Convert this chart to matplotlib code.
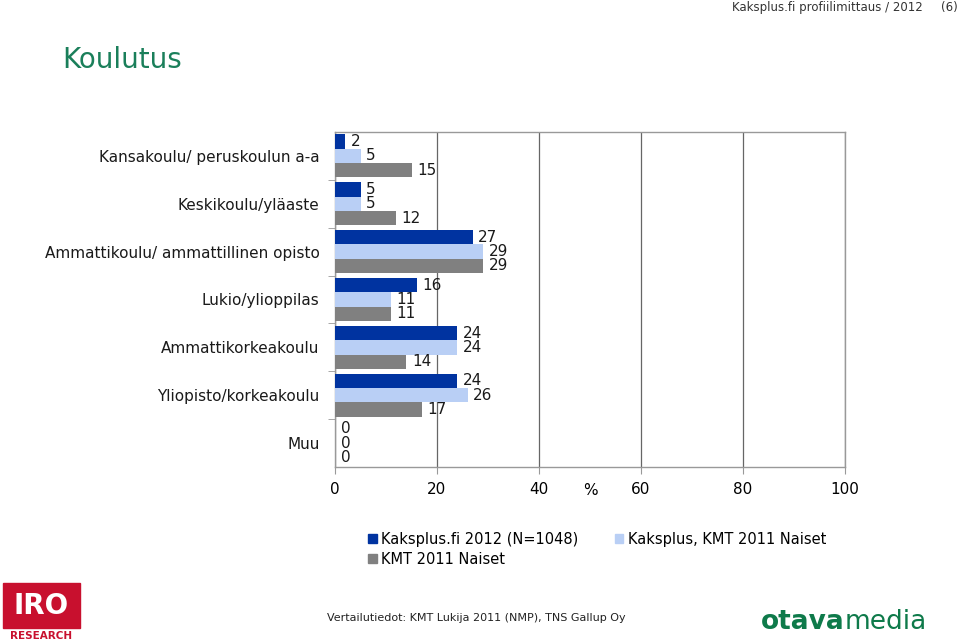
import matplotlib.pyplot as plt
from matplotlib.patches import Patch, Rectangle

plt.rcParams['font.family'] = ['DejaVu Sans']

categories = ['Kansakoulu/ peruskoulun a-a', 'Keskikoulu/yläaste',
              'Ammattikoulu/ ammattillinen opisto', 'Lukio/ylioppilas',
              'Ammattikorkeakoulu', 'Yliopisto/korkeakoulu', 'Muu']
kaksplus_2012 = [2, 5, 27, 16, 24, 24, 0]
kaksplus_kmt = [5, 5, 29, 11, 24, 26, 0]
kmt_naiset = [15, 12, 29, 11, 14, 17, 0]
series_names = ['Kaksplus.fi 2012 (N=1048)', 'Kaksplus, KMT 2011 Naiset', 'KMT 2011 Naiset']
colors = ['#0033a0', '#b9cff5', '#808080']
xticks = [0, 20, 40, 60, 80, 100]

fig = plt.figure(figsize=(9.6, 6.42), dpi=100)
ax = fig.add_axes([335 / 960, 1 - 467 / 642, 510 / 960, 335 / 642])

h = 0.3
ypos = list(range(len(categories)))
for k, (vals, col) in enumerate(zip([kaksplus_2012, kaksplus_kmt, kmt_naiset], colors)):
    yy = [y + (k - 1) * h for y in ypos]
    ax.barh(yy, vals, height=h, color=col, zorder=3)
    for y, v in zip(yy, vals):
        ax.annotate(str(v), (v, y), xytext=(4, 0), textcoords='offset points',
                    va='center', ha='left', fontsize=11, color='#1a1a1a', zorder=4)

ax.set_xlim(0, 100)
ax.set_ylim(len(categories) - 0.5, -0.5)
ax.set_xticks(xticks)
ax.set_xticklabels([str(t) for t in xticks], fontsize=11)
ax.set_yticks(ypos)
ax.set_yticklabels(categories, fontsize=11, color='#1a1a1a')
ax.set_yticks([y + 0.5 for y in ypos[:-1]], minor=True)
ax.tick_params(axis='y', which='major', length=0, pad=11)
ax.tick_params(axis='y', which='minor', length=5, color='#999999')
ax.tick_params(axis='x', length=5, color='#999999', pad=6)
ax.xaxis.grid(True, color='#666666', linewidth=0.9, zorder=0)
for s in ax.spines.values():
    s.set_color('#999999')
    s.set_linewidth(1.0)
ax.text(50, -0.07, '%', transform=ax.get_xaxis_transform(), ha='center', va='center', fontsize=11)

handles = [Patch(color=colors[0], label=series_names[0]),
           Patch(color=colors[2], label=series_names[2]),
           Patch(color=colors[1], label=series_names[1])]
fig.legend(handles=handles, ncol=2, loc='upper left', bbox_to_anchor=(362 / 960, 1 - 526 / 642),
           frameon=False, fontsize=10.5, handlelength=0.6, handleheight=0.6, handletextpad=0.3,
           columnspacing=2.5, labelspacing=0.35, borderaxespad=0)

fig.text(62 / 960, 1 - 60 / 642, 'Koulutus', fontsize=20, color='#1a7f5a', va='center', ha='left')
fig.text(923 / 960, 1 - 7 / 642, 'Kaksplus.fi profiilimittaus / 2012', fontsize=8.5, color='#333333',
         ha='right', va='center')
fig.text(958 / 960, 1 - 7 / 642, '(6)', fontsize=8.5, color='#333333', ha='right', va='center')
fig.text(476 / 960, 1 - 618 / 642, 'Vertailutiedot: KMT Lukija 2011 (NMP), TNS Gallup Oy',
         fontsize=8, ha='center', va='center', color='#222222')

# IRO logo
fig.patches.append(Rectangle((3 / 960, 1 - 628 / 642), 77 / 960, 45 / 642, transform=fig.transFigure,
                             color='#c8102e'))
fig.text(41 / 960, 1 - 606 / 642, 'IRO', fontsize=20, color='white', weight='bold', ha='center', va='center')
fig.text(41 / 960, 1 - 636 / 642, 'RESEARCH', fontsize=7.5, color='#c8102e', weight='bold',
         ha='center', va='center')
# otavamedia logo
fig.text(845 / 960, 1 - 622 / 642, 'otava', fontsize=19, color='#0e7a4a', weight='bold', ha='right', va='center')
fig.text(845 / 960, 1 - 622 / 642, 'media', fontsize=19, color='#0e7a4a', ha='left', va='center')

fig.savefig('out.png', dpi=100)
